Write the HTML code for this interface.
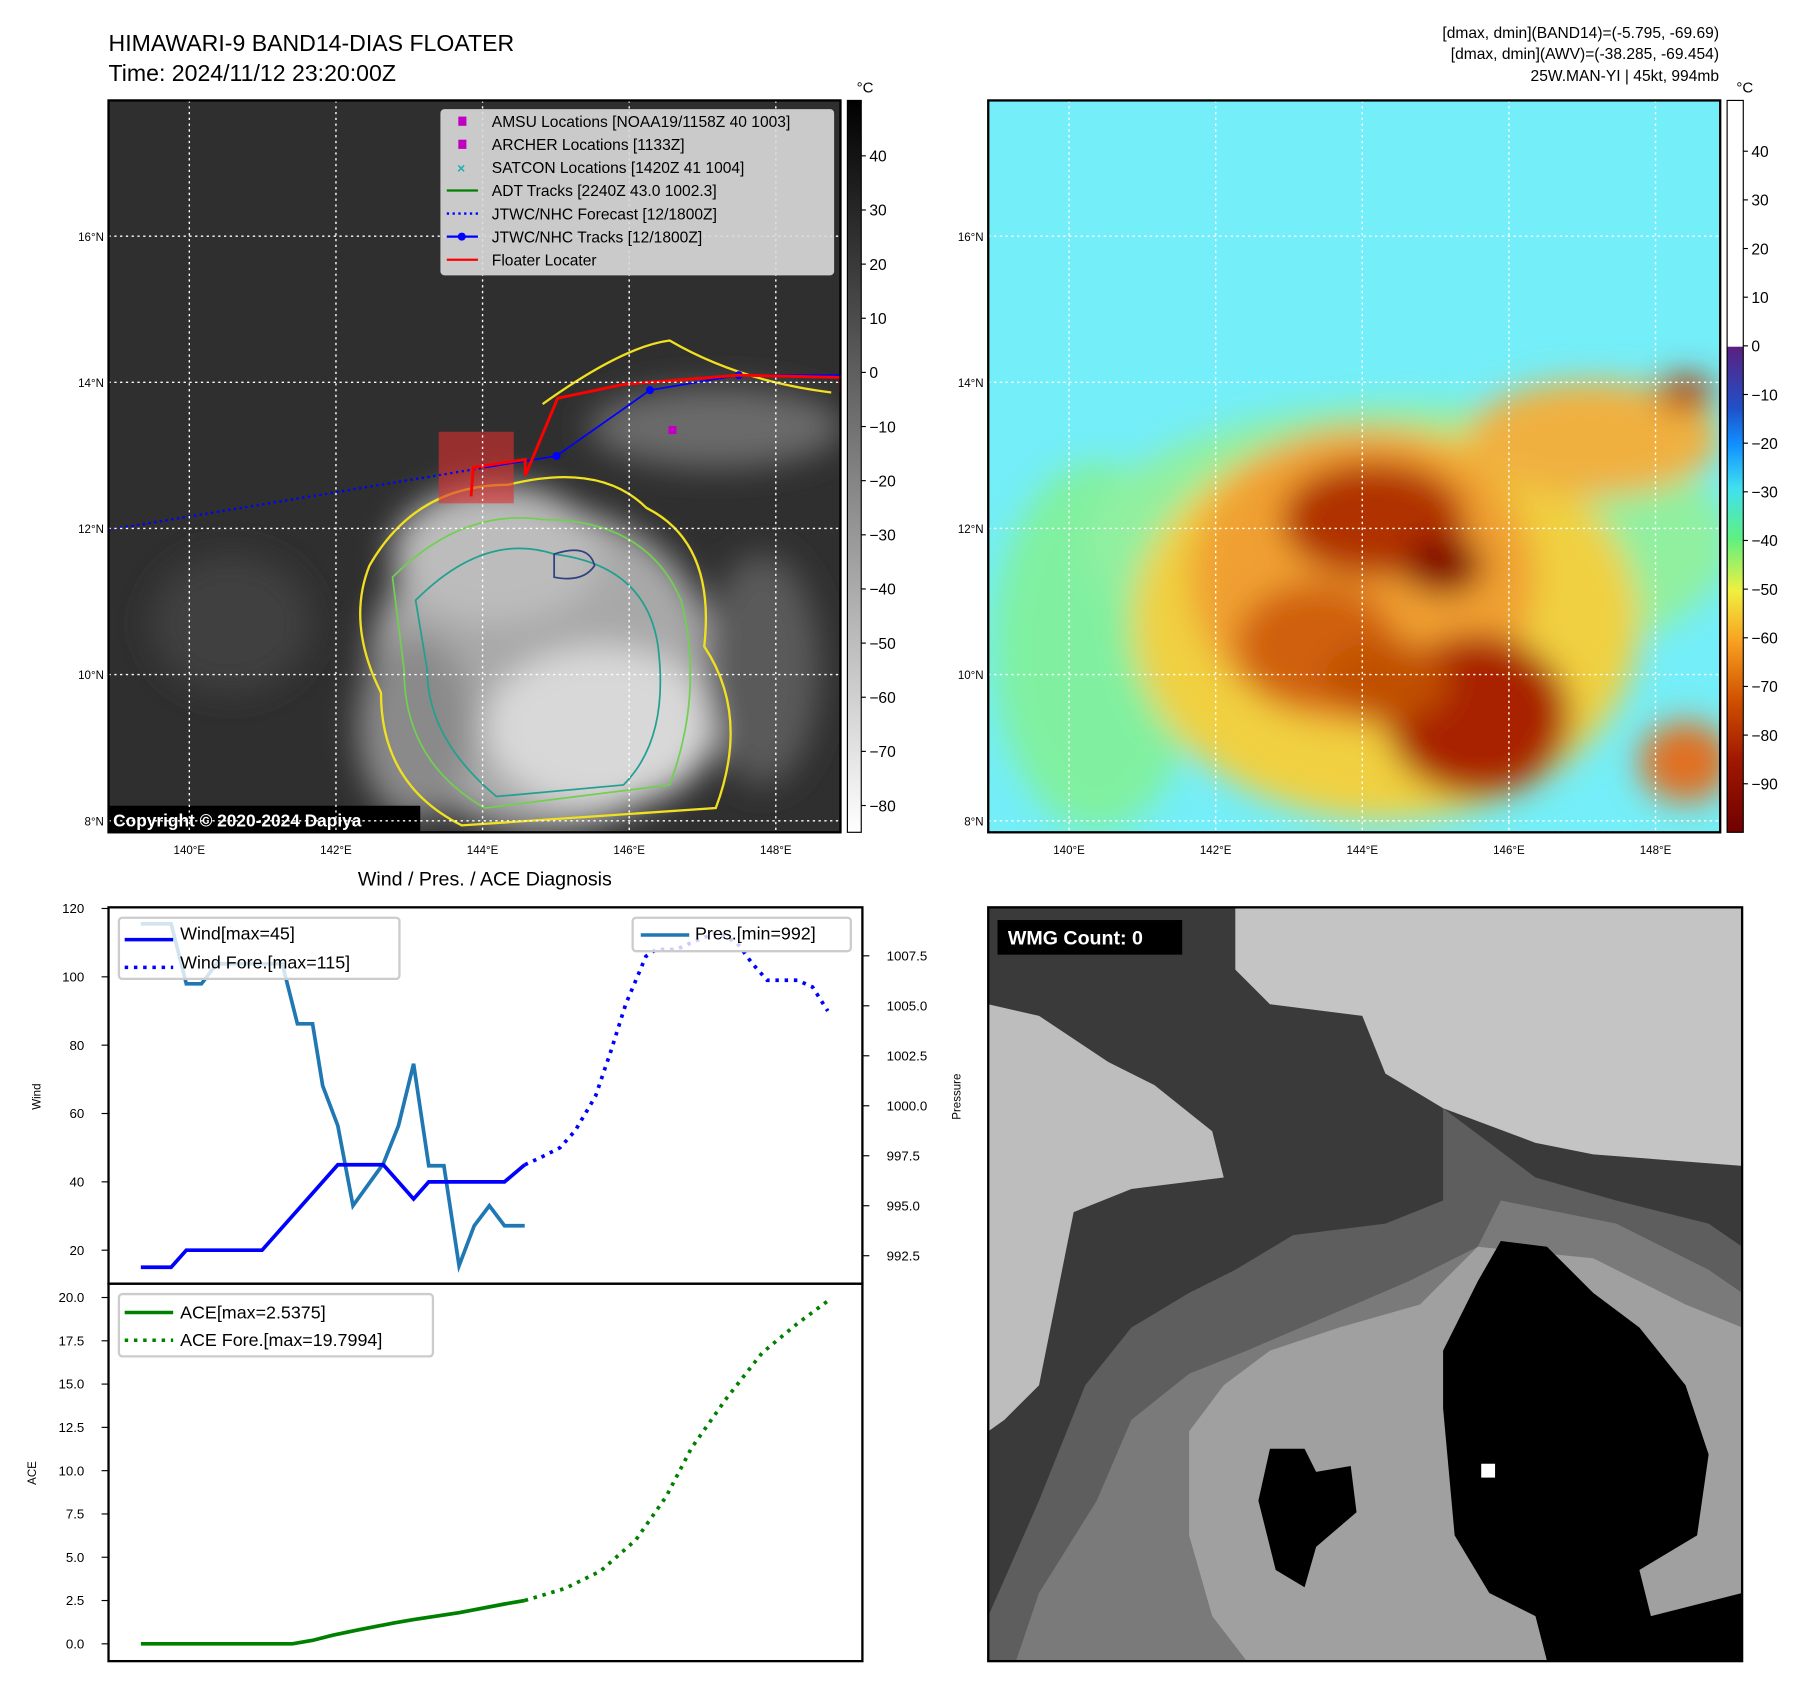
<!DOCTYPE html>
<html><head><meta charset="utf-8"><style>
html,body{margin:0;padding:0;background:#fff}
svg{display:block;font-family:"Liberation Sans","DejaVu Sans",sans-serif}
</style></head><body>
<svg id="root" width="1801" height="1690" viewBox="0 0 1560 1464" preserveAspectRatio="none" xmlns="http://www.w3.org/2000/svg">
<defs>
<filter id="bl" x="-20%" y="-20%" width="140%" height="140%"><feGaussianBlur stdDeviation="14"/></filter>
<linearGradient id="cbg" x1="0" y1="0" x2="0" y2="1"><stop offset="0" stop-color="#000"/><stop offset="1" stop-color="#fff"/></linearGradient>
<linearGradient id="cbc" x1="0" y1="0" x2="0" y2="1">
<stop offset="0" stop-color="#fff"/><stop offset="0.336" stop-color="#fff"/><stop offset="0.337" stop-color="#5a2080"/>
<stop offset="0.42" stop-color="#2050c8"/><stop offset="0.47" stop-color="#1090ff"/><stop offset="0.53" stop-color="#40e0f0"/>
<stop offset="0.6" stop-color="#60f080"/><stop offset="0.67" stop-color="#f0f040"/><stop offset="0.74" stop-color="#f8a020"/>
<stop offset="0.82" stop-color="#d05000"/><stop offset="0.9" stop-color="#a01800"/><stop offset="1" stop-color="#700000"/></linearGradient>
<clipPath id="cl"><rect x="94" y="87" width="634" height="634"/></clipPath>
<clipPath id="cr"><rect x="856" y="87" width="634" height="634"/></clipPath>
<clipPath id="cb"><rect x="856" y="786" width="653" height="653"/></clipPath>
</defs>

<text x="94" y="44" font-size="20">HIMAWARI-9 BAND14-DIAS FLOATER</text>
<text x="94" y="70" font-size="20">Time: 2024/11/12 23:20:00Z</text>
<g font-size="13.5" text-anchor="end">
<text x="1489" y="33">[dmax, dmin](BAND14)=(-5.795, -69.69)</text>
<text x="1489" y="51">[dmax, dmin](AWV)=(-38.285, -69.454)</text>
<text x="1489" y="70">25W.MAN-YI | 45kt, 994mb</text>
</g>

<!-- LEFT MAP -->
<g clip-path="url(#cl)">
<rect x="94" y="87" width="634" height="634" fill="#2f2f2f"/>
<g filter="url(#bl)">
<ellipse cx="470" cy="580" rx="150" ry="140" fill="#a8a8a8"/>
<ellipse cx="430" cy="480" rx="90" ry="60" fill="#bcbcbc"/>
<ellipse cx="520" cy="630" rx="100" ry="70" fill="#d8d8d8"/>
<ellipse cx="620" cy="370" rx="110" ry="35" fill="#6a6a6a"/>
<ellipse cx="360" cy="630" rx="50" ry="80" fill="#8a8a8a"/>
<ellipse cx="660" cy="580" rx="50" ry="100" fill="#5a5a5a"/>
<ellipse cx="200" cy="540" rx="70" ry="60" fill="#404040"/>
</g>
<path d="M320,490 Q360,420 440,420 Q520,400 560,440 Q620,470 610,560 Q650,620 620,700 L400,715 Q330,680 330,600 Q300,540 320,490Z" fill="none" stroke="#f0e020" stroke-width="2"/>
<path d="M340,500 Q400,440 470,450 Q560,450 590,520 Q610,600 580,680 L420,700 Q350,660 350,580Z" fill="none" stroke="#70d050" stroke-width="1.5"/>
<path d="M360,520 Q420,460 480,480 Q560,490 570,560 Q580,640 540,680 L430,690 Q370,640 370,580Z" fill="none" stroke="#20a090" stroke-width="1.5"/>
<path d="M480,480 Q510,470 515,490 Q505,505 480,500Z" fill="none" stroke="#304080" stroke-width="1.5"/>
<path d="M470,350 Q540,300 580,295 Q640,330 720,340" fill="none" stroke="#f0e020" stroke-width="2"/>
<rect x="380" y="374" width="65" height="62" fill="#e03030" opacity="0.6"/>
<polyline points="94,459 420,405" fill="none" stroke="#0000ff" stroke-width="2" stroke-dasharray="2,3"/>
<polyline points="420,405 482,395 563,338 640,325 728,325" fill="none" stroke="#0000ff" stroke-width="1.5"/>
<g fill="#0000ff"><circle cx="482" cy="395" r="3.5"/><circle cx="563" cy="338" r="3.5"/><circle cx="640" cy="325" r="3.5"/></g>
<polyline points="408,430 410,405 455,398 455,412 483,345 540,333 640,325 728,327 728,340" fill="none" stroke="#ff0000" stroke-width="2.5"/>
<rect x="579" y="369" width="7" height="7" fill="#c000c0"/>
<rect x="94" y="698" width="270" height="23" fill="#000"/>
<text x="98" y="716" font-size="15" font-weight="bold" fill="#fff">Copyright © 2020-2024 Dapiya</text>
</g>
<g id="gridL" stroke="#fff" stroke-width="1.2" stroke-dasharray="2,3" clip-path="url(#cl)"></g>
<rect x="94" y="87" width="634" height="634" fill="none" stroke="#000" stroke-width="2"/>
<g>
<rect x="382" y="95" width="340" height="143" rx="3" fill="#dcdcdc" fill-opacity="0.9" stroke="#ccc"/>
<g font-size="13.5">
<rect x="397" y="101" width="7" height="8" fill="#c000c0"/><text x="426" y="110">AMSU Locations [NOAA19/1158Z 40 1003]</text>
<rect x="397" y="121" width="7" height="8" fill="#c000c0"/><text x="426" y="130">ARCHER Locations [1133Z]</text>
<text x="396" y="150" fill="#20b0b0" font-weight="bold" font-size="12">×</text><text x="426" y="150">SATCON Locations [1420Z 41 1004]</text>
<line x1="387" y1="165" x2="414" y2="165" stroke="#008000" stroke-width="2"/><text x="426" y="170">ADT Tracks [2240Z 43.0 1002.3]</text>
<line x1="387" y1="185" x2="414" y2="185" stroke="#0000ff" stroke-width="2" stroke-dasharray="2,3"/><text x="426" y="190">JTWC/NHC Forecast [12/1800Z]</text>
<line x1="387" y1="205" x2="414" y2="205" stroke="#0000ff" stroke-width="2"/><circle cx="400" cy="205" r="3.5" fill="#0000ff"/><text x="426" y="210">JTWC/NHC Tracks [12/1800Z]</text>
<line x1="387" y1="225" x2="414" y2="225" stroke="#ff0000" stroke-width="2"/><text x="426" y="230">Floater Locater</text>
</g></g>
<rect x="734" y="87" width="12" height="634" fill="url(#cbg)" stroke="#000"/>
<text x="742" y="80" font-size="13">°C</text>
<g id="cbTickL" font-size="13.5"></g>

<!-- RIGHT MAP -->
<g clip-path="url(#cr)">
<rect x="856" y="87" width="634" height="634" fill="#74eef8"/>
<g filter="url(#bl)">
<ellipse cx="950" cy="560" rx="90" ry="160" fill="#80f0a0"/>
<ellipse cx="1220" cy="470" rx="280" ry="120" fill="#90f0a0"/>
<ellipse cx="1200" cy="540" rx="220" ry="170" fill="#f0d040"/>
<ellipse cx="1380" cy="380" rx="110" ry="50" fill="#f0b040"/>
<ellipse cx="1180" cy="500" rx="150" ry="130" fill="#f0a030"/>
<ellipse cx="1190" cy="450" rx="80" ry="50" fill="#b03000"/>
<ellipse cx="1250" cy="490" rx="35" ry="25" fill="#800000"/>
<ellipse cx="1140" cy="560" rx="70" ry="55" fill="#d06010"/>
<ellipse cx="1280" cy="620" rx="80" ry="70" fill="#a82000"/>
<ellipse cx="1200" cy="590" rx="55" ry="35" fill="#c05000"/>
<ellipse cx="1460" cy="340" rx="25" ry="15" fill="#b03000"/>
<ellipse cx="1460" cy="660" rx="40" ry="35" fill="#e07020"/>
</g>
</g>
<g id="gridR" stroke="#fff" stroke-width="1.2" stroke-dasharray="2,3" clip-path="url(#cr)"></g>
<rect x="856" y="87" width="634" height="634" fill="none" stroke="#000" stroke-width="2"/>
<rect x="1496" y="87" width="14" height="634" fill="url(#cbc)" stroke="#000"/>
<text x="1504" y="80" font-size="13">°C</text>
<g id="cbTickR" font-size="13.5"></g>
<g id="mapTicks" font-size="10"></g>

<!-- WIND / PRES -->
<text x="420" y="767" font-size="17" text-anchor="middle">Wind / Pres. / ACE Diagnosis</text>
<g id="windG"></g>
<g id="aceG"></g>
<rect x="94" y="786" width="653" height="326" fill="none" stroke="#000" stroke-width="2"/>
<rect x="94" y="1112" width="653" height="327" fill="none" stroke="#000" stroke-width="2"/>
<text transform="translate(35,950) rotate(-90)" font-size="10" text-anchor="middle">Wind</text>
<text transform="translate(832,950) rotate(-90)" font-size="10" text-anchor="middle">Pressure</text>
<text transform="translate(31,1276) rotate(-90)" font-size="10" text-anchor="middle">ACE</text>
<g font-size="15.5">
<rect x="103" y="795" width="243" height="53" rx="3" fill="#fff" fill-opacity="0.8" stroke="#ccc" stroke-width="2"/>
<line x1="108" y1="814" x2="150" y2="814" stroke="#0000ff" stroke-width="3"/><text x="156" y="814">Wind[max=45]</text>
<line x1="108" y1="838" x2="150" y2="838" stroke="#0000ff" stroke-width="3" stroke-dasharray="3,5"/><text x="156" y="839">Wind Fore.[max=115]</text>
</g>
<g font-size="15.5">
<rect x="548" y="795" width="189" height="29" rx="3" fill="#fff" fill-opacity="0.8" stroke="#ccc" stroke-width="2"/>
<line x1="555" y1="810" x2="597" y2="810" stroke="#1f77b4" stroke-width="3"/><text x="602" y="814">Pres.[min=992]</text>
</g>
<g font-size="15.5">
<rect x="103" y="1121" width="272" height="54" rx="3" fill="#fff" fill-opacity="0.8" stroke="#ccc" stroke-width="2"/>
<line x1="108" y1="1137" x2="150" y2="1137" stroke="#008000" stroke-width="3"/><text x="156" y="1142">ACE[max=2.5375]</text>
<line x1="108" y1="1161" x2="150" y2="1161" stroke="#008000" stroke-width="3" stroke-dasharray="3,5"/><text x="156" y="1166">ACE Fore.[max=19.7994]</text>
</g>

<!-- WMG -->
<g clip-path="url(#cb)">
<rect x="856" y="786" width="653" height="653" fill="#3a3a3a"/>
<path d="M1070,786 L1509,786 L1509,1010 L1380,1000 L1330,990 L1250,960 L1200,930 L1180,880 L1100,870 L1070,840Z" fill="#c4c4c4"/>
<path d="M856,870 L900,880 L960,920 L1000,940 L1050,980 L1060,1020 L980,1030 L930,1050 L920,1100 L900,1200 L870,1230 L856,1240Z" fill="#bdbdbd"/>
<path d="M1250,960 L1330,1020 L1400,1040 L1480,1060 L1509,1080 L1509,1439 L856,1439 L856,1400 L900,1300 L940,1200 L980,1150 L1030,1120 L1070,1100 L1120,1070 L1200,1060 L1250,1040Z" fill="#5e5e5e"/>
<path d="M1300,1040 L1400,1060 L1480,1100 L1509,1120 L1509,1439 L880,1439 L900,1380 L950,1300 L980,1230 L1030,1190 L1080,1170 L1150,1140 L1220,1110 L1280,1080Z" fill="#7a7a7a"/>
<path d="M1280,1080 L1380,1090 L1460,1130 L1509,1150 L1509,1439 L1080,1439 L1050,1400 L1030,1330 L1030,1240 L1060,1200 L1100,1170 L1160,1150 L1230,1130Z" fill="#a0a0a0"/>
<path d="M1300,1075 L1340,1080 L1380,1120 L1420,1150 L1460,1200 L1480,1260 L1470,1330 L1420,1360 L1430,1400 L1509,1380 L1509,1439 L1340,1439 L1330,1400 L1290,1380 L1260,1330 L1250,1220 L1250,1170 L1280,1110Z" fill="#000"/>
<path d="M1100,1255 L1130,1255 L1140,1275 L1170,1270 L1175,1310 L1140,1340 L1130,1375 L1105,1360 L1090,1300Z" fill="#000"/>
<rect x="1283" y="1268" width="12" height="12" fill="#fff"/>
</g>
<rect x="856" y="786" width="653" height="653" fill="none" stroke="#000" stroke-width="2"/>
<rect x="864" y="797" width="160" height="30" fill="#000"/>
<text x="873" y="818" font-size="17" font-weight="bold" fill="#fff">WMG Count: 0</text>

<script>
const windTimes=[0,6,9,24,39,48,54,57,72,76];
const windVals=[15,15,20,20,45,45,35,40,40,45];
const windForeTimes=[76,79,83,86,90,93,96,100,102,106,109,114,118,121,124,130,133,136];
const windForeVals=[45,47,50,55,65,78,92,106,108,108,110,113,110,104,99,99,97,90];
const presTimes=[0,6,9,12,15,28,31,34,36,39,42,48,51,54,57,60,63,66,69,72,76];
const presVals=[1009.1,1009.1,1006.1,1006.1,1007.1,1007.1,1004.1,1004.1,1001.0,999.0,995.0,997.1,999.0,1002.1,997.0,997.0,992.0,994.0,995.0,994.0,994.0];
const aceTimes=[0,30,34,38,43,50,54,63,72,76];
const aceVals=[0,0,0.2,0.5,0.8,1.2,1.4,1.8,2.3,2.5];
const aceForeTimes=[76,84,91,98,104,109,116,123,130,136];
const aceForeVals=[2.5,3.2,4.2,6.0,8.5,11.3,14.2,16.8,18.5,19.8];
const windTicks=[20,40,60,80,100,120];
const presTicks=[992.5,995.0,997.5,1000.0,1002.5,1005.0,1007.5];
const aceTicks=[0,2.5,5,7.5,10,12.5,15,17.5,20];
const latTicks=[8,10,12,14,16];
const lonTicks=[140,142,144,146,148];
const cbTicksL=[40,30,20,10,0,-10,-20,-30,-40,-50,-60,-70,-80];
const cbTicksR=[40,30,20,10,0,-10,-20,-30,-40,-50,-60,-70,-80,-90];

const NS='http://www.w3.org/2000/svg';
function mk(tag,attrs,parent){const e=document.createElementNS(NS,tag);for(const k in attrs)e.setAttribute(k,attrs[k]);parent.appendChild(e);return e;}
const xT=t=>122+t*4.375;
const yW=v=>787+(120-v)*2.96;
const yP=v=>828-(v-1007.5)/2.5*43.3;
const yA=v=>1424-v*15;
const xLon=l=>164+(l-140)*63.5;
const yLat=l=>711-(l-8)*63.3;
const yCL=v=>135+(40-v)*4.69;
const yCR=v=>131+(40-v)*4.215;

['gridL','gridR'].forEach((id,i)=>{const g=document.getElementById(id);const off=i*762;
 latTicks.forEach(l=>{const ln=mk('line',{x1:94+off,x2:728+off,y1:yLat(l),y2:yLat(l)},g);});
 lonTicks.forEach(l=>{const ln=mk('line',{x1:xLon(l)+off,x2:xLon(l)+off,y1:87,y2:721},g);});
});
const mt=document.getElementById('mapTicks');
[0,762].forEach(off=>{
 latTicks.forEach(l=>{const t=mk('text',{x:90+off,y:yLat(l)+4,'text-anchor':'end'},mt);t.textContent=l+'°N';});
 lonTicks.forEach(l=>{const t=mk('text',{x:xLon(l)+off,y:740,'text-anchor':'middle'},mt);t.textContent=l+'°E';});
});
const cl=document.getElementById('cbTickL');
cbTicksL.forEach(v=>{mk('line',{x1:746,x2:750,y1:yCL(v),y2:yCL(v),stroke:'#000'},cl);const t=mk('text',{x:753,y:yCL(v)+5},cl);t.textContent=v<0?'−'+(-v):v;});
const cr=document.getElementById('cbTickR');
cbTicksR.forEach(v=>{mk('line',{x1:1510,x2:1514,y1:yCR(v),y2:yCR(v),stroke:'#000'},cr);const t=mk('text',{x:1517,y:yCR(v)+5},cr);t.textContent=v<0?'−'+(-v):v;});

const wg=document.getElementById('windG');
windTicks.forEach(v=>{mk('line',{x1:88,x2:94,y1:yW(v),y2:yW(v),stroke:'#000'},wg);const t=mk('text',{x:73,y:yW(v)+4,'font-size':11.5,'text-anchor':'end'},wg);t.textContent=v;});
presTicks.forEach(v=>{mk('line',{x1:747,x2:753,y1:yP(v),y2:yP(v),stroke:'#000'},wg);const t=mk('text',{x:768,y:yP(v)+4,'font-size':11.5},wg);t.textContent=v.toFixed(1);});
function line(g,ts,vs,yf,color,dash,name){const p=mk('polyline',{points:ts.map((t,i)=>xT(t)+','+yf(vs[i])).join(' '),fill:'none',stroke:color,'stroke-width':3.2},g);if(dash)p.setAttribute('stroke-dasharray',dash);

}
line(wg,presTimes,presVals,yP,'#1f77b4',null,'pressure-line');
line(wg,windTimes,windVals,yW,'#0000ff',null,'wind-line');
line(wg,windForeTimes,windForeVals,yW,'#0000ff','3,5','wind-forecast-line');
const ag=document.getElementById('aceG');
aceTicks.forEach(v=>{mk('line',{x1:88,x2:94,y1:yA(v),y2:yA(v),stroke:'#000'},ag);const t=mk('text',{x:73,y:yA(v)+4,'font-size':11.5,'text-anchor':'end'},ag);t.textContent=v.toFixed(1);});
line(ag,aceTimes,aceVals,yA,'#008000',null,'ace-line');
line(ag,aceForeTimes,aceForeVals,yA,'#008000','3,5','ace-forecast-line');
</script>
</svg>
</body></html>
